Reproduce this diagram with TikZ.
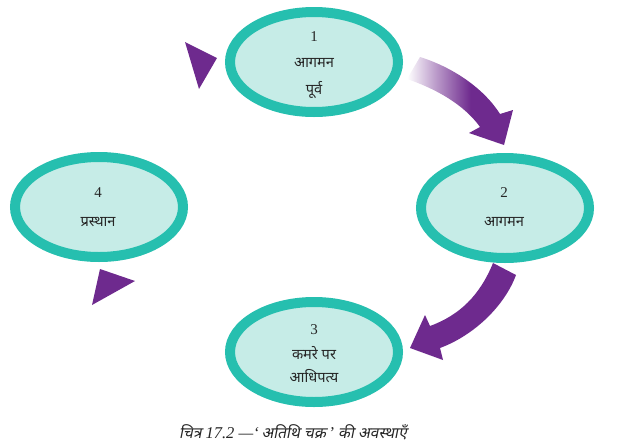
\documentclass[tikz,border=0pt]{standalone}
\usepackage{fontspec}
\setmainfont{Liberation Serif}
\newfontfamily\dev[Script=Devanagari]{Noto Sans}
\newfontfamily\devit[Script=Devanagari,FakeSlant=0.2]{Noto Sans}
\usetikzlibrary{shapes.geometric}
\definecolor{ring}{RGB}{38,191,175}
\definecolor{inner}{RGB}{198,236,231}
\definecolor{arrowp}{RGB}{110,42,142}
\pgfdeclarehorizontalshading{arrowfade}{100bp}{color(0bp)=(white); color(25bp)=(white); color(38bp)=(arrowp!45); color(55bp)=(arrowp); color(100bp)=(arrowp)}
\tikzset{
  stage/.style={ellipse, draw=ring, fill=inner, line width=10pt, inner sep=0pt,
    minimum width=168pt, minimum height=100pt},
  num/.style={font=\fontsize{15}{15}\selectfont, text=black!85, inner sep=0pt},
  lbl/.style={font=\dev\fontsize{14.6}{15}\selectfont, text=black!85, inner sep=0pt},
  tri/.style={fill=arrowp, draw=none}
}
\begin{document}
\begin{tikzpicture}[x=1pt,y=-1pt]
\useasboundingbox (0,0) rectangle (640,445);
% small triangles
\fill[tri] (185,42) -- (217,58) -- (199,89) -- cycle;
\fill[tri] (100,269) -- (135,281) -- (92,305) -- cycle;
% top-right curved arrow with fading
\shade[shading=arrowfade]
  (407,79) -- (420,57) .. controls (455,68) and (485,90) .. (500,114)
  -- (513,110) -- (504,145) -- (469,133) -- (480,127)
  .. controls (468,110) and (445,92) .. cycle;
% bottom-right curved arrow
\fill[arrowp]
  (493,263) .. controls (480,295) and (460,315) .. (430,326)
  -- (425,315) -- (410,348) -- (443,360) -- (440,348)
  .. controls (475,335) and (505,305) .. (516,275) -- cycle;
% stages
\node[stage] (e1) at (314,62) {};
\node[stage] (e2) at (505,208) {};
\node[stage] (e3) at (314,352) {};
\node[stage] (e4) at (99,207) {};
% labels
\node[num] (n1) at (314,37) {1};
\node[lbl] (l1a) at (314,63) {आगमन};
\node[lbl] (l1b) at (314,90) {पूर्व};
\node[num] (n2) at (504,193) {2};
\node[lbl] (l2a) at (504,222) {आगमन};
\node[num] (n3) at (314,330) {3};
\node[lbl] (l3a) at (314,353) {कमरे पर};
\node[lbl] (l3b) at (314,376) {आधिपत्य};
\node[num] (n4) at (98,193) {4};
\node[lbl] (l4a) at (98,222) {प्रस्थान};
% caption
\node[inner sep=0pt, text=black!85] (cap) at (293,432)
  {\devit\fontsize{15.5}{15.5}\selectfont चित्र {\rmfamily\itshape\fontsize{16.5}{16.5}\selectfont 17.2 —‘\,}अतिथि चक्र{\rmfamily\itshape\fontsize{16.5}{16.5}\selectfont \,’} की अवस्थाएँ};
\end{tikzpicture}
\end{document}
